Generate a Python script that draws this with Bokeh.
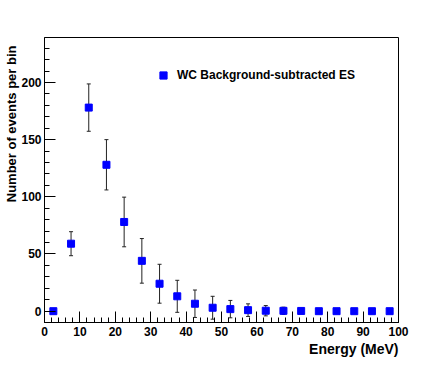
from bokeh.plotting import figure
from bokeh.models import (Range1d, FixedTicker, ColumnDataSource, Whisker, TeeHead,
                          Legend, LegendItem, Title)
from bokeh.embed import file_html
from bokeh.resources import INLINE

# ---- data ----
energy = [2.5, 7.5, 12.5, 17.5, 22.5, 27.5, 32.5, 37.5, 42.5, 47.5,
          52.5, 57.5, 62.5, 67.5, 72.5, 77.5, 82.5, 87.5, 92.5, 97.5]
counts = [0, 59, 178, 128, 78, 44, 24, 13, 6.5, 3,
          1.8, 0.9, 0.4, 0.3, 0.2, 0, 0, 0, 0, 0]
errors = [0.5, 10.5, 20.7, 22, 21.7, 19.5, 17, 14, 12, 10,
          7.6, 5.5, 4.5, 3.2, 1, 0, 0, 0, 0, 0]
x_major = [0, 10, 20, 30, 40, 50, 60, 70, 80, 90, 100]
x_minor = list(range(0, 101, 2))
y_major = [0, 50, 100, 150, 200]
y_minor = list(range(-10, 240, 10))
series_label = "WC Background-subtracted ES"
x_title = "Energy (MeV)"
y_title = "Number of events per bin"

FONT = "Liberation Sans"

p = figure(width=434, height=366, output_backend="svg", toolbar_location=None,
           x_range=Range1d(0, 100), y_range=Range1d(-9.9, 239.3),
           min_border_left=44, min_border_right=36, min_border_top=37, min_border_bottom=44)
p.background_fill_color = "white"
p.border_fill_color = "white"
p.outline_line_color = "black"
p.outline_line_width = 1
p.xgrid.visible = False
p.ygrid.visible = False

for ax in (p.xaxis[0], p.yaxis[0]):
    ax.major_tick_in = 11
    ax.major_tick_out = 0
    ax.minor_tick_in = 5
    ax.minor_tick_out = 0
    ax.major_tick_line_color = "black"
    ax.minor_tick_line_color = "black"
    ax.axis_line_color = "black"
    ax.major_label_text_font = FONT
    ax.major_label_text_font_style = "bold"
    ax.major_label_text_font_size = "12px"
    ax.major_label_text_color = "black"

p.xaxis[0].ticker = FixedTicker(ticks=x_major, minor_ticks=x_minor)
p.yaxis[0].ticker = FixedTicker(ticks=y_major, minor_ticks=y_minor)
p.xaxis[0].major_label_standoff = 4
p.yaxis[0].major_label_standoff = 3

lower = [c - e for c, e in zip(counts, errors)]
upper = [c + e for c, e in zip(counts, errors)]
src = ColumnDataSource(dict(x=energy, y=counts, lo=lower, hi=upper))

wh = Whisker(source=src, base="x", upper="hi", lower="lo", dimension="height",
             line_color="#222222", line_width=1,
             upper_head=TeeHead(size=4, line_color="#222222", line_width=1),
             lower_head=TeeHead(size=4, line_color="#222222", line_width=1))
p.add_layout(wh)

r = p.scatter("x", "y", source=src, marker="square", size=7,
              fill_color="#0000ff", line_color="#0000ff")

legend = Legend(items=[LegendItem(label=series_label, renderers=[r])],
                location=(110, 238), border_line_color=None,
                background_fill_alpha=0, padding=0, margin=0, spacing=0,
                glyph_width=18, glyph_height=18, label_standoff=5,
                label_text_font=FONT, label_text_font_style="bold",
                label_text_font_size="12px", label_text_color="black")
p.add_layout(legend, "center")

xt = Title(text=x_title, align="right", text_font=FONT, text_font_style="bold",
           text_font_size="14px", text_color="black", standoff=0, offset=0)
p.add_layout(xt, "below")
yt = Title(text=y_title, align="right", text_font=FONT, text_font_style="bold",
           text_font_size="13px", text_color="black", standoff=0, offset=8)
p.add_layout(yt, "left")

open("out.html", "w").write(file_html(p, INLINE))
